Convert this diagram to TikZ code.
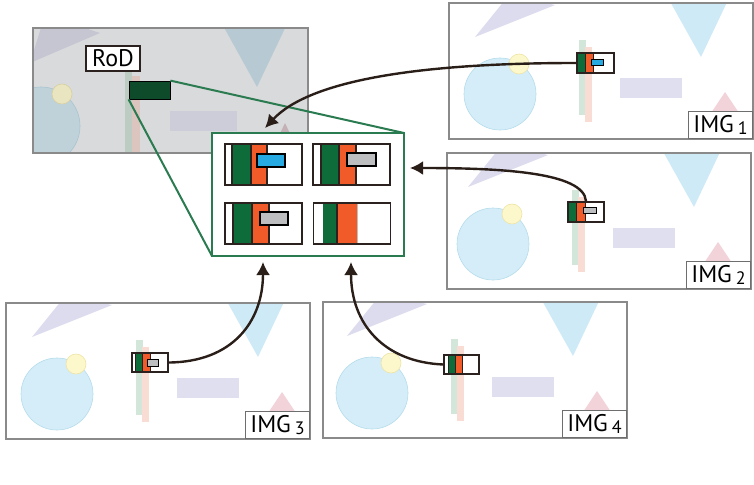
\documentclass[tikz,border=0pt]{standalone}
\usepackage{fontspec}
\newfontfamily\labelfont{PT Sans}
\usetikzlibrary{arrows.meta}

\definecolor{framegray}{HTML}{8A8A8A}
\definecolor{taggray}{HTML}{6E6E6E}
\definecolor{cellline}{HTML}{2B2220}
\definecolor{stripgreen}{HTML}{0E6B3A}
\definecolor{striporange}{HTML}{F15A29}
\definecolor{chipblue}{HTML}{27AAE1}
\definecolor{chipgray}{HTML}{BCBEC0}
\definecolor{zoomgreen}{HTML}{2A7B50}
\definecolor{rodgreen}{HTML}{0D4B2B}
\definecolor{arrowbrown}{HTML}{2A1E18}
\definecolor{lilac}{HTML}{DDDCEE}
\definecolor{skyblue}{HTML}{CFEAF7}
\definecolor{pool}{HTML}{D4EDF8}
\definecolor{poolline}{HTML}{B5DCEC}
\definecolor{sun}{HTML}{FDF7CC}
\definecolor{sunline}{HTML}{EEE4A6}
\definecolor{lavender}{HTML}{E0DFEF}
\definecolor{rose}{HTML}{F2D3DA}
\definecolor{mint}{HTML}{D2E6DA}
\definecolor{peach}{HTML}{F9DCD3}
\definecolor{rodfill}{HTML}{D9DADC}

\newcommand{\idx}[1]{\,\raisebox{-2.5pt}{\fontsize{18pt}{18pt}\selectfont #1}}

% background of one frame, in the frame's own pixels
\newcommand{\scenery}{%
  \fill[lilac] (26,34) -- (106,2) -- (60,-8) -- cycle;
  \fill[skyblue] (219,-5) -- (280,-5) -- (252,54) -- cycle;
  \filldraw[fill=pool, draw=poolline, line width=0.6pt] (51,91) circle (36);
  \filldraw[fill=sun, draw=sunline, line width=0.6pt] (70,61) circle (10);
  \fill[lavender] (171,75) rectangle (233,95);
  \fill[rose] (262,110) -- (276,89) -- (290,110) -- cycle;
  \fill[mint] (130,37) rectangle (137,112);
  \fill[peach] (136,44) rectangle (143,119);
}

\begin{document}
\begin{tikzpicture}[x=1pt,y=-1pt]

\tikzset{frame/.style = {draw=framegray, line width=2pt, inner sep=0pt, minimum width=304pt, minimum height=136pt}}
\tikzset{tag/.style = {draw=taggray, fill=white, line width=1pt, inner sep=0pt, minimum width=64pt, minimum height=27pt, font=\labelfont\fontsize{24pt}{24pt}\selectfont}}
\tikzset{cellbox/.style = {draw=cellline, line width=1.8pt, inner sep=0pt, minimum width=77pt, minimum height=41pt}}
\tikzset{roibox/.style = {draw=cellline, line width=1.6pt, inner sep=0pt, minimum width=36pt, minimum height=20pt}}
\tikzset{sep/.style = {draw=cellline, line width=1.4pt}}
\tikzset{chip/.style = {draw=black, line width=1.4pt}}
\tikzset{link/.style = {-{Latex[length=13pt,width=14pt]}, line width=2.4pt, draw=arrowbrown}}

\useasboundingbox (0,0) rectangle (754,484);

% RoD view
\begin{scope}
\clip (33,28) rectangle (308,153);
\fill[rodfill] (33,28) rectangle (308,153);
\fill[fill=lilac!75!gray] (30,63) -- (100,33) -- (45,15) -- cycle;
\fill[fill=skyblue!70!gray] (221,22) -- (288,22) -- (257,87) -- cycle;
\filldraw[fill=pool!75!gray, draw=poolline!75!gray, line width=0.6pt] (41,126) circle (39);
\filldraw[fill=sun!85!gray, draw=sunline!80!gray, line width=0.6pt] (62,94) circle (10);
\fill[lavender!80!gray] (170,111) rectangle (237,131);
\fill[rose!60!gray] (276,142) -- (285,123) -- (294,142) -- cycle;
\fill[mint!75!gray] (125,72) rectangle (132,160);
\fill[peach!75!gray] (132,76) rectangle (140,160);
\end{scope}
\node[frame, minimum width=275pt, minimum height=125pt] (rodview) at (170.5,90.5) {};
\node[draw=cellline, fill=white, line width=1.2pt, inner sep=0pt, minimum width=54pt, minimum height=25pt,
      font=\labelfont\fontsize{24pt}{24pt}\selectfont] (rodtag) at (113,58.5) {RoD};
\node[draw=black, fill=rodgreen, line width=0.8pt, inner sep=0pt, minimum width=41pt, minimum height=18pt] (rod) at (149.5,90) {};

% zoom lines and zoomed box
\draw[zoomgreen, line width=2pt] (rod.north east) -- (404,133);
\draw[zoomgreen, line width=2pt] (rod.south west) -- (212,256);
\node[draw=zoomgreen, fill=white, line width=2.2pt, inner sep=0pt, minimum width=192pt, minimum height=123pt] (zoom) at (308,194.5) {};

% cells
\fill[stripgreen] (232,144) rectangle (251,185);
\fill[striporange] (251,144) rectangle (267,185);
\draw[sep] (232,144) -- (232,185) (251,144) -- (251,185) (267,144) -- (267,185);
\node[cellbox] (c1) at (263.5,164.5) {};
\filldraw[fill=chipblue, chip] (257,154) rectangle (285,167);

\fill[stripgreen] (321,144) rectangle (339,185);
\fill[striporange] (339,144) rectangle (356,185);
\draw[sep] (321,144) -- (321,185) (339,144) -- (339,185) (356,144) -- (356,185);
\node[cellbox] (c2) at (351.5,164.5) {};
\filldraw[fill=chipgray, chip] (347,153) rectangle (376,166);

\fill[stripgreen] (233,203) rectangle (252,244);
\fill[striporange] (252,203) rectangle (269,244);
\draw[sep] (233,203) -- (233,244) (252,203) -- (252,244) (269,203) -- (269,244);
\node[cellbox] (c3) at (263.5,223.5) {};
\filldraw[fill=chipgray, chip] (260,212) rectangle (288,225);

\fill[stripgreen] (323,203) rectangle (337,244);
\fill[striporange] (337,203) rectangle (357,244);
\draw[sep] (337,203) -- (337,244);
\draw[chipgray, line width=1.4pt] (357.5,204) -- (357.5,243);
\node[cellbox] (c4) at (352,223.5) {};

% IMG 1
\begin{scope}[shift={(449,3)}]
\clip (0,0) rectangle (304,136);
\scenery
\end{scope}
\node[frame] (img1) at (601,71) {};
\node[tag, anchor=south east] (tag1) at ([shift={(-1pt,1pt)}]img1.south east) {IMG\idx{1}};
\fill[white] (577,53) rectangle (614,73);
\fill[stripgreen] (577,53) rectangle (585,73);
\fill[striporange] (585,53) rectangle (593,73);
\draw[sep, line width=0.8pt] (585,53) -- (585,73) (593,53) -- (593,73);
\node[roibox, minimum width=37pt] (roi1) at (595.5,63) {};
\filldraw[fill=chipblue, chip, line width=0.8pt] (591,59) rectangle (603,65);

% IMG 2
\begin{scope}[shift={(447,153)}]
\clip (0,0) rectangle (304,136);
\begin{scope}[shift={(-5,0)}]
\scenery
\end{scope}
\end{scope}
\node[frame] (img2) at (599,221) {};
\node[tag, anchor=south east] (tag2) at ([shift={(-1pt,1pt)}]img2.south east) {IMG\idx{2}};
\fill[white] (568,202) rectangle (604,222);
\fill[stripgreen] (569,202) rectangle (576,222);
\fill[striporange] (576,202) rectangle (585,222);
\draw[sep, line width=0.8pt] (576,202) -- (576,222) (585,202) -- (585,222);
\node[roibox] (roi2) at (586,212) {};
\filldraw[fill=chipgray, chip, line width=0.8pt] (583,207) rectangle (596,213);

% IMG 3
\begin{scope}[shift={(6,303)}]
\clip (0,0) rectangle (304,136);
\scenery
\end{scope}
\node[frame] (img3) at (158,371) {};
\node[tag, anchor=south east] (tag3) at ([shift={(-1pt,1pt)}]img3.south east) {IMG\idx{3}};
\fill[white] (132,353) rectangle (168,372);
\fill[stripgreen] (135,353) rectangle (142,372);
\fill[striporange] (142,353) rectangle (150,372);
\draw[sep, line width=0.8pt] (135,353) -- (135,372) (142,353) -- (142,372) (150,353) -- (150,372);
\node[roibox, minimum height=19pt] (roi3) at (150,362.5) {};
\filldraw[fill=chipgray, chip, line width=0.8pt] (147,359) rectangle (158,366);

% IMG 4
\begin{scope}[shift={(323,302)}]
\clip (0,0) rectangle (304,136);
\begin{scope}[shift={(-2,0)}]
\scenery
\end{scope}
\end{scope}
\node[frame] (img4) at (475,370) {};
\node[tag, anchor=south east] (tag4) at ([shift={(-1pt,1pt)}]img4.south east) {IMG\idx{4}};
\fill[white] (444,355) rectangle (479,374);
\fill[stripgreen] (448,355) rectangle (455,374);
\fill[striporange] (455,355) rectangle (462,374);
\draw[sep, line width=0.8pt] (448,355) -- (448,374) (455,355) -- (455,374) (462,355) -- (462,374);
\node[roibox, minimum width=35pt, minimum height=19pt] (roi4) at (461.5,364.5) {};

% arrows
\coordinate (hit1) at (265,128);
\coordinate (hit2) at (410,168);
\coordinate (hit3) at (263,262);
\coordinate (hit4) at (351,262);
\draw[link] (roi1.west) .. controls (420,63) and (310,80) .. (hit1);
\draw[link] (roi2.north) .. controls (584,172) and (500,168) .. (hit2);
\draw[link] (roi3.east) .. controls (232,362) and (263,322) .. (hit3);
\draw[link] (roi4.west) .. controls (384,362) and (351,324) .. (hit4);

\end{tikzpicture}
\end{document}
